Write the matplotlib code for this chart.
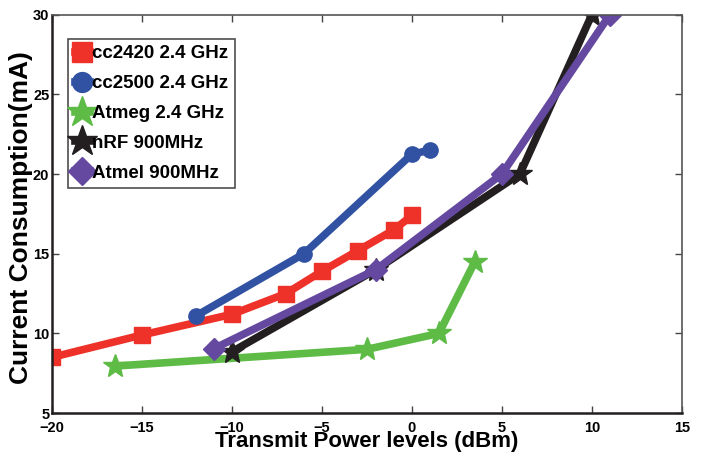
import matplotlib
matplotlib.use("Agg")
import matplotlib.pyplot as plt

plt.rcParams['font.family'] = ['Liberation Sans', 'DejaVu Sans']
plt.rcParams['font.weight'] = 'bold'

cc2420_x = [-20, -15, -10, -7, -5, -3, -1, 0]
cc2420_y = [8.5, 9.9, 11.2, 12.5, 13.9, 15.2, 16.5, 17.4]
cc2500_x = [-12, -6, 0, 1]
cc2500_y = [11.1, 15.0, 21.25, 21.5]
atmeg_x = [-16.5, -2.5, 1.5, 3.5]
atmeg_y = [7.95, 9.0, 10.0, 14.5]
nrf_x = [-10, -2, 6, 10]
nrf_y = [8.85, 14.0, 20.0, 30.0]
atmel_x = [-11, -2, 5, 11]
atmel_y = [9.05, 14.0, 20.0, 30.0]

xticks = [-20, -15, -10, -5, 0, 5, 10, 15]
yticks = [5, 10, 15, 20, 25, 30]

fig = plt.figure(figsize=(7.06, 4.61), dpi=100)
ax = fig.add_axes([0.0737, 0.104, 0.892, 0.864])

lw = 5.5
ax.plot(cc2420_x, cc2420_y, color='#EE3129', lw=lw, marker='s', ms=11, label='cc2420 2.4 GHz')
ax.plot(cc2500_x, cc2500_y, color='#3152A3', lw=lw, marker='o', ms=11, label='cc2500 2.4 GHz')
ax.plot(atmeg_x, atmeg_y, color='#5DBB46', lw=lw, marker='*', ms=18, label='Atmeg 2.4 GHz')
ax.plot(nrf_x, nrf_y, color='#231F20', lw=lw, marker='*', ms=18, label='nRF 900MHz')
ax.plot(atmel_x, atmel_y, color='#6549A0', lw=lw, marker='D', ms=11, label='Atmel 900MHz')

ax.set_xlim(-20, 15)
ax.set_ylim(5, 30)
ax.set_xticks(xticks)
ax.set_yticks(yticks)
ax.set_xticklabels([str(t).replace('-', '\u2212') for t in xticks], fontsize=10.5, fontweight='bold')
ax.set_yticklabels([str(t) for t in yticks], fontsize=10.5, fontweight='bold')
ax.tick_params(direction='in', top=True, right=True, length=5, width=1, color='#444444', pad=6)
ax.tick_params(axis='y', pad=2)

for s in ['left', 'bottom']:
    ax.spines[s].set_linewidth(1.8)
    ax.spines[s].set_color('#231F20')
for s in ['top', 'right']:
    ax.spines[s].set_linewidth(1.2)
    ax.spines[s].set_color('#555555')

ax.set_xlabel('Transmit Power levels (dBm)', fontsize=16, fontweight='bold', labelpad=-3)
ax.set_ylabel('Current Consumption(mA)', fontsize=19, fontweight='bold')
ax.yaxis.set_label_coords(-0.031, 0.49)

leg = ax.legend(loc='upper left', bbox_to_anchor=(0.026, 0.94), fontsize=13.5,
                frameon=True, fancybox=False, edgecolor='#231F20', handlelength=0.8,
                handletextpad=0.1, borderpad=0.35, labelspacing=0.68, borderaxespad=0,
                markerscale=1.3)
leg.get_frame().set_linewidth(1.2)
for t in leg.get_texts():
    t.set_fontweight('bold')

fig.savefig('out.png', dpi=100)
